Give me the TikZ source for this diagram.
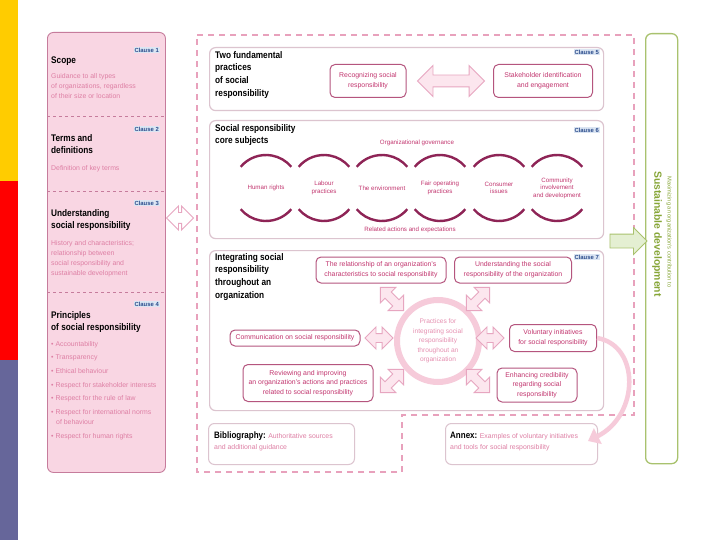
\documentclass[tikz,border=0pt]{standalone}
\usepackage{fontspec}
\setmainfont{Liberation Sans}
\newfontfamily\condfont{Liberation Sans}[FakeStretch=0.86]
\usetikzlibrary{shapes.arrows,arrows.meta}
\definecolor{barY}{HTML}{FFCC00}
\definecolor{barR}{HTML}{FF0000}
\definecolor{barS}{HTML}{66669A}
\definecolor{pfill}{HTML}{F9D6E3}
\definecolor{pbord}{HTML}{C67C9C}
\definecolor{ptext}{HTML}{DE7FA4}
\definecolor{cblue}{HTML}{2B4C8C}
\definecolor{cbg}{HTML}{DCE6F3}
\definecolor{sbord}{HTML}{DCC4CF}
\definecolor{mbord}{HTML}{B5557E}
\definecolor{mtext}{HTML}{C2366F}
\definecolor{framecol}{HTML}{E8A1BC}
\definecolor{arcc}{HTML}{8E2456}
\definecolor{ring}{HTML}{F6CBDA}
\definecolor{ringtext}{HTML}{E690B1}
\definecolor{gbord}{HTML}{A9C26E}
\definecolor{gtext}{HTML}{86A536}
\definecolor{gfill}{HTML}{E4EFD2}
\definecolor{afill}{HTML}{FCE6EE}
\definecolor{abord}{HTML}{E7A6C0}
\begin{document}
\begin{tikzpicture}[x=1pt,y=-1pt,
  panel/.style={fill=pfill,draw=pbord,line width=0.9pt,rounded corners=6pt},
  secbox/.style={draw=sbord,fill=white,line width=1.2pt,rounded corners=6pt},
  inbox/.style={draw=mbord,fill=white,line width=1pt,rounded corners=5pt,text=mtext,
     font=\fontsize{6.9}{9.6}\selectfont,align=center,inner sep=1pt},
  ttl/.style={font=\condfont\bfseries\fontsize{9.6}{12.7}\selectfont,align=left,anchor=north west,inner sep=0pt},
  body/.style={text=ptext,font=\fontsize{6.9}{10.2}\selectfont,align=left,anchor=north west,inner sep=0pt},
  clause/.style={text=cblue,fill=cbg,font=\bfseries\fontsize{5.9}{6.5}\selectfont,anchor=east,inner sep=1pt},
  circlbl/.style={text=mtext,font=\fontsize{6.2}{7.4}\selectfont,align=center,inner sep=0pt},
  darr/.style={double arrow,draw=abord,fill=afill,line width=0.9pt,inner sep=0pt},
  sep/.style={draw=pbord,dashed,line width=0.9pt},
]
\useasboundingbox (0,0) rectangle (720,540);
\fill[white] (0,0) rectangle (720,540);
% side bar
\fill[barY] (0,0) rectangle (18,181);
\fill[barR] (0,181) rectangle (18,360);
\fill[barS] (0,360) rectangle (18,540);

% outer dashed frame
\draw[framecol,line width=1.3pt,dash pattern=on 6pt off 5pt]
  (197,35) -- (634,35) -- (634,415) -- (402,415) -- (402,472) -- (197,472) -- cycle;

% left panel
\node[panel,minimum width=118pt,minimum height=440pt,anchor=north west] (lp) at (47,32) {};
\draw[sep] (47,116) -- (165,116);
\draw[sep] (47,191) -- (165,191);
\draw[sep] (47,292) -- (165,292);
\node[clause] (c1) at (160,50) {Clause 1};
\node[ttl] (scope) at (51,57) {Scope};
\node[body] (b1) at (51,73) {Guidance to all types\\of organizations, regardless\\of their size or location};
\node[clause] (c2) at (160,129) {Clause 2};
\node[ttl] (terms) at (51,134) {Terms and\\definitions};
\node[body] (b2) at (51,165) {Definition of key terms};
\node[clause] (c3) at (160,203) {Clause 3};
\node[ttl] (und) at (51,209) {Understanding\\social responsibility};
\node[body] (b3) at (51,240) {History and characteristics;\\relationship between\\social responsibility and\\sustainable development};
\node[clause] (c4) at (160,304) {Clause 4};
\node[ttl] (prin) at (51,311) {Principles\\of social responsibility};
\node[body] (b4) at (51,341) {\textbullet\ Accountability\\[3.4pt]
 \textbullet\ Transparency\\[3.4pt]
 \textbullet\ Ethical behaviour\\[3.4pt]
 \textbullet\ Respect for stakeholder interests\\[3.4pt]
 \textbullet\ Respect for the rule of law\\[3.4pt]
 \textbullet\ Respect for international norms\\
 \hspace*{5pt}of behaviour\\[3.4pt]
 \textbullet\ Respect for human rights};

% left double arrow
\node[darr,minimum height=27pt,double arrow head extend=6.5pt,fill=white] (la) at (180,218) {\rule{0pt}{10pt}};

% ---------- section clause 5
\node[secbox,minimum width=394pt,minimum height=63pt,anchor=north west] (s5) at (209,47) {};
\node[ttl] (t5) at (215,51) {Two fundamental\\practices\\of social\\responsibility};
\node[clause] (c5) at (600,52) {Clause 5};
\node[inbox,minimum width=76pt,minimum height=33pt] (rec) at (368,81) {Recognizing social\\responsibility};
\node[inbox,minimum width=99pt,minimum height=33pt] (stk) at (543,81) {Stakeholder identification\\and engagement};
\node[darr,minimum height=67pt,double arrow head extend=9.5pt] (a5) at (451,81) {\rule{0pt}{11pt}};

% ---------- section clause 6
\node[secbox,minimum width=394pt,minimum height=118pt,anchor=north west] (s6) at (209,120) {};
\node[ttl] (t6) at (215,124) {Social responsibility\\core subjects};
\node[clause] (c6) at (600,130) {Clause 6};
\node[circlbl] (og) at (417,143) {Organizational governance};
\node[circlbl] (ra) at (410,230) {Related actions and expectations};
\foreach \cx/\nm/\lbl in {266/cs1/{Human rights},324/cs2/{Labour\\practices},382/cs3/{The environment},
   440/cs4/{Fair operating\\practices},499/cs5/{Consumer\\issues},557/cs6/{Community\\involvement\\and development}}{
  \node[circlbl] (\nm) at (\cx,188) {\lbl};
  \draw[arcc,line width=2.4pt] (\cx,188) ++(40:33) arc (40:140:33);
  \draw[arcc,line width=2.4pt] (\cx,188) ++(220:33) arc (220:320:33);
}

% ---------- section clause 7
\node[secbox,minimum width=394pt,minimum height=160pt,anchor=north west] (s7) at (209,250) {};
\node[ttl] (t7) at (215,253) {Integrating social\\responsibility\\throughout an\\organization};
\node[clause] (c7) at (600,257) {Clause 7};
\node[inbox,minimum width=130pt,minimum height=26pt] (rel) at (381,270) {The relationship of an organization's\\characteristics to social responsibility};
\node[inbox,minimum width=117pt,minimum height=26pt] (usr) at (513,270) {Understanding the social\\responsibility of the organization};
\node[inbox,minimum width=130pt,minimum height=16pt] (com) at (295,338) {Communication on social responsibility};
\node[inbox,minimum width=130pt,minimum height=37pt] (rev) at (308,383) {Reviewing and improving\\an organization's actions and practices\\related to social responsibility};
\node[inbox,minimum width=87pt,minimum height=27pt] (vol) at (553,338) {Voluntary initiatives\\for social responsibility};
\node[inbox,minimum width=80pt,minimum height=34pt] (enh) at (537,385) {Enhancing credibility\\regarding social\\responsibility};
\node[circle,draw=ring,line width=6pt,minimum size=82pt,text=ringtext,
  font=\fontsize{6.6}{9.6}\selectfont,align=center,inner sep=0pt] (prc) at (438,341)
  {Practices for\\integrating social\\responsibility\\throughout an\\organization};
\foreach \nm/\px/\py/\rot/\len in {a71/392/299/-45/33,a72/478/299/45/33,a73/379/338/0/28,a74/490/338/0/28,a75/392/381/45/33,a76/478/381/-45/33}{
  \node[darr,minimum height=\len pt,double arrow head extend=6.5pt,rotate=\rot] (\nm) at (\px,\py) {\rule{0pt}{8pt}};
}

% ---------- bibliography and annex
\node[secbox,line width=1pt,minimum width=146pt,minimum height=41pt,anchor=north west] (bib) at (208,423) {};
\node[body,anchor=north west,font=\fontsize{6.9}{10.5}\selectfont] (bibt) at (214,432)
  {{\color{black}\condfont\bfseries\fontsize{9.3}{10}\selectfont Bibliography:} Authoritative sources\\and additional guidance};
\node[secbox,line width=1pt,minimum width=152pt,minimum height=41pt,anchor=north west] (anx) at (445,423) {};
\node[body,anchor=north west,font=\fontsize{6.9}{10.5}\selectfont] (anxt) at (450,432)
  {{\color{black}\condfont\bfseries\fontsize{9.3}{10}\selectfont Annex:} Examples of voluntary initiatives\\and tools for social responsibility};

% curved arrow from voluntary initiatives to annex
\coordinate (anxhead) at (588,441);
\draw[ring,line width=4.5pt,-{Triangle[length=11pt,width=17pt]}]
  (vol.east) .. controls (640,345) and (640,415) .. (anxhead);

% ---------- green sustainable development box
\node[draw=gbord,line width=1.3pt,rounded corners=6pt,fill=white,minimum width=32pt,minimum height=430pt,anchor=north west] (gb) at (645,33) {};
\node[rotate=-90,text=gtext,font=\bfseries\fontsize{10.4}{12}\selectfont,inner sep=0pt] (sd) at (657,234) {Sustainable development};
\node[rotate=-90,text=gtext,font=\fontsize{5.7}{6}\selectfont,inner sep=0pt] (mx) at (669,232) {Maximizing an organization's contribution to};
\node[single arrow,draw=gbord,fill=gfill,line width=0.9pt,minimum height=37pt,
  single arrow head extend=6.5pt,inner sep=0pt] (ga) at (625,241) {\rule{0pt}{13pt}};
\end{tikzpicture}
\end{document}
